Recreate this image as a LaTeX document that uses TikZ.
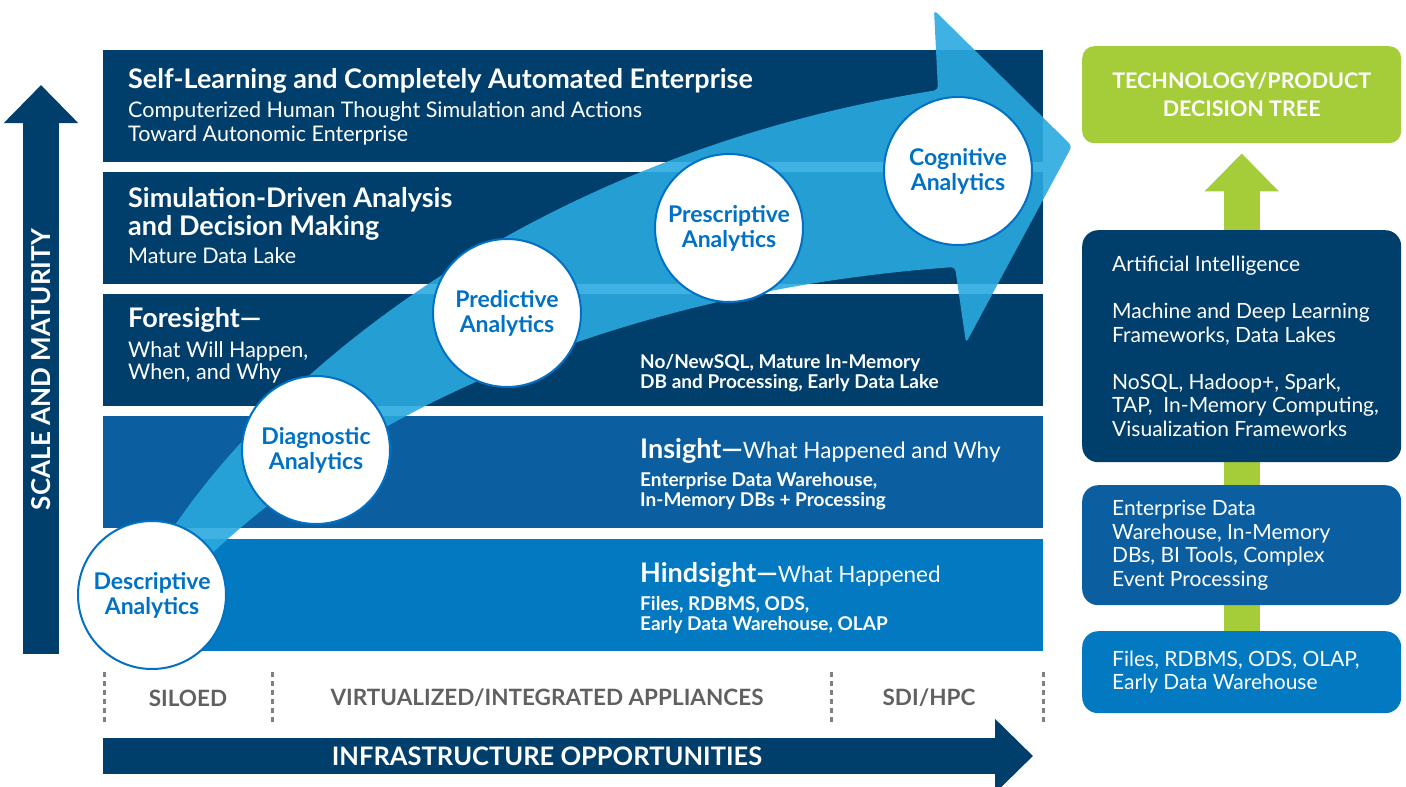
\documentclass[tikz,border=0pt]{standalone}
\usepackage{fontspec}
\setmainfont{Lato}
\usetikzlibrary{positioning}
\usetikzlibrary{arrows.meta}
\usetikzlibrary{backgrounds}
\definecolor{navy}{HTML}{003E6B}
\definecolor{midblue}{HTML}{0B5FA0}
\definecolor{lightblue}{HTML}{0379C1}
\definecolor{sweep}{HTML}{2AA9DF}
\definecolor{circblue}{HTML}{0071C5}
\definecolor{leaf}{HTML}{A5CD39}
\definecolor{labelgray}{HTML}{606060}
\newcommand{\bandlines}[1]{\begin{tabular}[t]{@{}l@{}}#1\end{tabular}}
\tikzset{
    band/.style = {rectangle, anchor=north west, minimum width=940pt, minimum height=112pt, inner sep=0pt},
    bandhead/.style = {anchor=base west, inner sep=0pt, text=white, font=\bfseries\fontsize{27}{27}\selectfont},
    bandsub/.style = {anchor=base west, inner sep=0pt, text=white, font=\fontsize{21.5}{24}\selectfont},
    bandtech/.style = {anchor=base west, inner sep=0pt, text=white, font=\bfseries\fontsize{19}{20}\selectfont},
    stage/.style = {circle, draw=circblue, line width=2pt, fill=white, minimum size=148pt, inner sep=0pt, align=center, text=circblue, font=\bfseries\fontsize{23}{25}\selectfont},
    techbox/.style = {rectangle, rounded corners=16pt, anchor=north west, minimum width=319pt, inner sep=0pt},
    techtext/.style = {anchor=west, inner sep=0pt, text=white, align=left, font=\fontsize{21}{23.5}\selectfont},
    bigarrow/.style = {line width=36pt, -{Triangle[width=72pt,length=38pt]}},
    divider/.style = {labelgray!80, line width=3pt, dash pattern=on 5pt off 4pt},
    infra/.style = {inner sep=0pt, text=labelgray, font=\bfseries\fontsize{22.5}{24}\selectfont}
}
\begin{document}
\begin{tikzpicture}[x=1pt, y=-1pt]
  \useasboundingbox (0,0) rectangle (1406,787);

  % maturity bands
  \node[band, fill=navy]      (selflearn) at (103,50)  {};
  \node[band, fill=navy]      (simdriven) at (103,172) {};
  \node[band, fill=navy]      (foresight) at (103,294) {};
  \node[band, fill=midblue]   (insight)   at (103,416) {};
  \node[band, fill=lightblue] (hindsight) at (103,539) {};

  \node[bandhead] (selftitle) at (128,88)  {Self-Learning and Completely Automated Enterprise};
  \node[bandsub]  (selfsub)   at (128,117) {\bandlines{Computerized Human Thought Simulation and Actions\\Toward Autonomic Enterprise}};
  \node[bandhead] (simtitle)  at (128,207) {\bandlines{Simulation-Driven Analysis\\and Decision Making}};
  \node[bandsub]  (simsub)    at (128,263) {Mature Data Lake};
  \node[bandhead] (foretitle) at (128,327) {Foresight—};
  \node[bandsub, font=\fontsize{21.5}{22}\selectfont] (foresub) at (128,357) {\bandlines{What Will Happen,\\When, and Why}};
  \node[bandtech] (foretech)  at (640,368) {\bandlines{No/NewSQL, Mature In-Memory\\DB and Processing, Early Data Lake}};
  \node[bandhead] (insighthead) at (640,458) {Insight—{\mdseries\fontsize{22.5}{24}\selectfont What Happened and Why}};
  \node[bandtech] (insighttech) at (640,486) {\bandlines{Enterprise Data Warehouse,\\In-Memory DBs + Processing}};
  \node[bandhead] (hindhead)  at (640,582) {Hindsight—{\mdseries\fontsize{22.5}{24}\selectfont What Happened}};
  \node[bandtech] (hindtech)  at (640,610) {\bandlines{Files, RDBMS, ODS,\\Early Data Warehouse, OLAP}};

  % sweeping arrow
  \fill[sweep, fill opacity=0.9, rounded corners=4pt]
    (165,540) .. controls (290,350) and (560,150) .. (938,90) -- (934,10) -- (1072,146)
    -- (966,343) -- (955,267) .. controls (700,285) and (400,370) .. (200,565) -- cycle;

  \node[stage] (desc)  at (152,595) {Descriptive\\Analytics};
  \node[stage] (diag)  at (316,450) {Diagnostic\\Analytics};
  \node[stage] (pred)  at (507,313) {Predictive\\Analytics};
  \node[stage] (presc) at (729,228) {Prescriptive\\Analytics};
  \node[stage] (cogn)  at (958,171) {Cognitive\\Analytics};

  % axes
  \coordinate (scalebot) at (41,654);
  \coordinate (scaletop) at (41,85);
  \draw[bigarrow, navy] (scalebot) -- (scaletop)
    node[midway, rotate=90, text=white, font=\bfseries\fontsize{26}{30}\selectfont] {SCALE AND MATURITY};

  \foreach \x in {104,272,831,1043}
    \draw[divider] (\x,672) -- (\x,722);
  \node[infra] (siloed)  at (188,698) {SILOED};
  \node[infra] (virtual) at (547,698) {VIRTUALIZED/INTEGRATED APPLIANCES};
  \node[infra] (sdihpc)  at (929,698) {SDI/HPC};

  \coordinate (infrastart) at (103,756);
  \coordinate (infraend) at (1033,756);
  \draw[bigarrow, navy] (infrastart) -- (infraend);
  \node[infra, text=white, font=\bfseries\fontsize{25.5}{28}\selectfont] (infralabel) at (547,756) {INFRASTRUCTURE OPPORTUNITIES};

  % decision tree column
  \node[techbox, fill=leaf, minimum height=97pt, rounded corners=12pt, align=center, text=white,
        font=\bfseries\fontsize{21.5}{28}\selectfont] (tree) at (1082,46) {TECHNOLOGY/PRODUCT\\DECISION TREE};
  \node[techbox, fill=navy,      minimum height=232pt] (ai)    at (1082,230) {};
  \node[techbox, fill=midblue,   minimum height=120pt] (edw)   at (1082,485) {};
  \node[techbox, fill=lightblue, minimum height=82pt]  (files) at (1082,631) {};

  \node[techtext] (aitext) at ([xshift=30pt]ai.west)
    {Artificial Intelligence\\[23.5pt]Machine and Deep Learning\\Frameworks, Data Lakes\\[23.5pt]NoSQL, Hadoop+, Spark,\\TAP,\ \ In-Memory Computing,\\Visualization Frameworks};
  \node[techtext] (edwtext) at ([xshift=30pt]edw.west)
    {Enterprise Data\\Warehouse, In-Memory\\DBs, BI Tools, Complex\\Event Processing};
  \node[techtext] (filestext) at ([xshift=30pt]files.west)
    {Files, RDBMS, ODS, OLAP,\\Early Data Warehouse};

  \begin{scope}[on background layer]
    \draw[bigarrow, leaf] (files.north) -- ([yshift=-10pt]tree.south);
  \end{scope}
\end{tikzpicture}
\end{document}
